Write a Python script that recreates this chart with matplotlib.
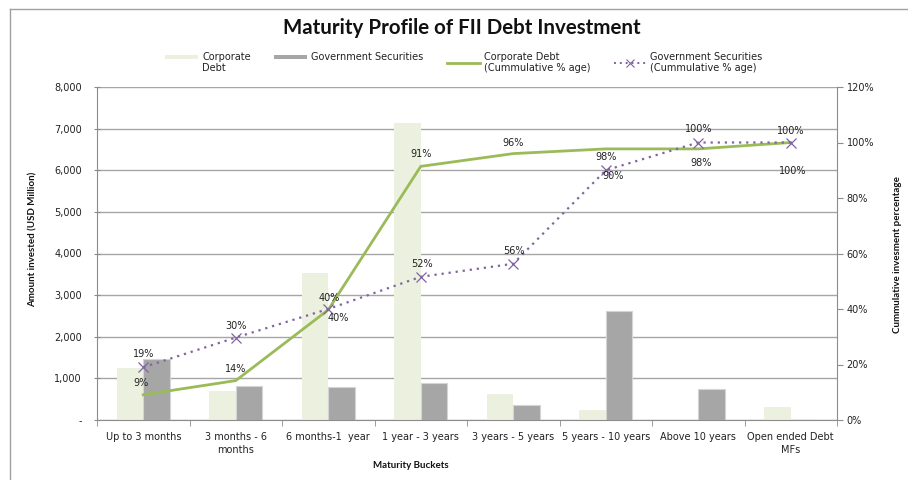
import numpy as np
import matplotlib
matplotlib.use("Agg")
import matplotlib.pyplot as plt
from matplotlib.patches import Patch
from matplotlib.lines import Line2D
from matplotlib.legend_handler import HandlerPatch, HandlerLine2D

# Data
buckets = ["Up to 3 months", "3 months - 6\nmonths", "6 months-1  year", "1 year - 3 years",
           "3 years - 5 years", "5 years - 10 years", "Above 10 years", "Open ended Debt\nMFs"]
corp_debt = [1260, 700, 3520, 7140, 630, 240, 0, 312]
govt_sec = [1470, 817, 793, 897, 360, 2620, 745, 0]
corp_cum = [9.1, 14.2, 39.7, 91.4, 96.0, 97.7, 97.7, 100.0]
govt_cum = [19.0, 29.7, 40.0, 51.6, 56.3, 90.0, 100.0, 100.0]

GREEN_BAR = "#EBF1DE"
GREY_BAR = "#A6A6A6"
GREEN_LINE = "#9BBB59"
PURPLE = "#8064A2"
AXIS = "#8C8C8C"
TXT = "#222222"

plt.rcParams['font.family'] = ['DejaVu Sans']

fig = plt.figure(figsize=(9.08, 4.8), dpi=100)
ax = fig.add_axes([97 / 908, 1 - 420 / 480, 740 / 908, 333 / 480])

x = np.arange(len(buckets))
w = 0.286
ax.bar(x - w / 2, corp_debt, width=w, color=GREEN_BAR, edgecolor="none", zorder=2)
ax.bar(x + w / 2, govt_sec, width=w, color=GREY_BAR, edgecolor="#D4D4D4", lw=0.8, zorder=2)

ax.set_xlim(-0.5, len(buckets) - 0.5)
ax.set_ylim(0, 8000)
ax.set_yticks(np.arange(0, 8001, 1000))
ax.set_yticklabels(["-" if v == 0 else f"{v:,}" for v in range(0, 8001, 1000)])
ax.yaxis.grid(True, color="#A6A6A6", lw=1)
ax.set_axisbelow(True)
ax.set_xticks(x)
ax.set_xticklabels(buckets, fontsize=7, color=TXT, linespacing=1.3)
ax.set_xticks(np.arange(-0.5, len(buckets)), minor=True)
ax.tick_params(axis="x", which="major", length=0, pad=9)
ax.tick_params(axis="x", which="minor", length=4, color=AXIS, direction="out")
ax.tick_params(axis="y", labelsize=7, labelcolor=TXT, length=4, color=AXIS, direction="inout", pad=9)
for s in ["top", "right"]:
    ax.spines[s].set_visible(False)
for s in ["left", "bottom"]:
    ax.spines[s].set_color(AXIS)

ax2 = ax.twinx()
ax2.plot(x, corp_cum, color=GREEN_LINE, lw=2, zorder=3)
ax2.plot(x, govt_cum, color=PURPLE, lw=1.6, ls=(0, (1, 2.2)), marker="x", ms=7, mew=0.9, zorder=4)
ax2.set_ylim(0, 120)
ax2.set_yticks(np.arange(0, 121, 20))
ax2.set_yticklabels([f"{v}%" for v in range(0, 121, 20)])
ax2.tick_params(axis="y", labelsize=7, labelcolor=TXT, length=4, color=AXIS, direction="out", pad=3)
for s in ["top", "left", "bottom"]:
    ax2.spines[s].set_visible(False)
ax2.spines["right"].set_color(AXIS)

# data labels (offsets in pixels)
corp_off = [(-2, 12), (0, 12), (10, -8), (0, 12), (0, 11), (0, -8), (3, -14), (2, -29)]
govt_off = [(0, 13), (0, 12), (1, 11), (1, 13), (1, 13), (7, -6), (0, 13), (0, 12)]
for xi, v, off in zip(x, corp_cum, corp_off):
    ax2.annotate(f"{v:.0f}%", (xi, v), xytext=off, textcoords="offset pixels",
                 ha="center", va="center", fontsize=7, color=TXT, zorder=5)
for xi, v, off in zip(x, govt_cum, govt_off):
    ax2.annotate(f"{v:.0f}%", (xi, v), xytext=off, textcoords="offset pixels",
                 ha="center", va="center", fontsize=7, color=TXT, zorder=5)

# title, axis titles
fig.text(462 / 908, 1 - 28 / 480, "Maturity Profile of FII Debt Investment", ha="center", va="center",
         fontsize=14.8, fontweight="bold", family="Lato", color="#111111")
fig.text(33 / 908, 1 - 239 / 480, "Amount invested (USD Million)", rotation=90, ha="center", va="center",
         fontsize=7, fontweight="bold", family="Lato", color="#111111")
fig.text(897 / 908, 1 - 255 / 480, "Cummulative invesment percentage", rotation=90, ha="center", va="center",
         fontsize=7, fontweight="bold", family="Lato", color="#111111")
fig.text(411 / 908, 1 - 466 / 480, "Maturity Buckets", ha="center", va="center",
         fontsize=7, fontweight="bold", family="Lato", color="#111111")

# legend, keys lined up with the first text line
handles = [Patch(facecolor=GREEN_BAR, edgecolor="none"),
           Patch(facecolor=GREY_BAR, edgecolor="none"),
           Line2D([], [], color=GREEN_LINE, lw=2),
           Line2D([], [], color=PURPLE, lw=1.4, ls=(0, (1, 2)), marker="x", ms=6, mew=0.8)]
labels = ["Corporate\nDebt", "Government Securities\n ", "Corporate Debt\n(Cummulative % age)",
          "Government Securities\n(Cummulative % age)"]
fig.legend(handles, labels, ncol=4, loc="upper center", bbox_to_anchor=(464 / 908, 1 - 43 / 480),
           frameon=False, fontsize=7, handlelength=3.4, handleheight=0.8, handletextpad=0.4,
           columnspacing=2.4, labelcolor=TXT,
           handler_map={Patch: HandlerPatch(ypad=1.2), Line2D: HandlerLine2D(ypad=2.4)})

# chart border (left and top)
fig.add_artist(Line2D([10 / 908, 10 / 908], [0, 1 - 9 / 480], color="#A0A0A0", lw=1))
fig.add_artist(Line2D([10 / 908, 1], [1 - 9 / 480, 1 - 9 / 480], color="#A0A0A0", lw=1))

fig.savefig("out.png", dpi=100)
